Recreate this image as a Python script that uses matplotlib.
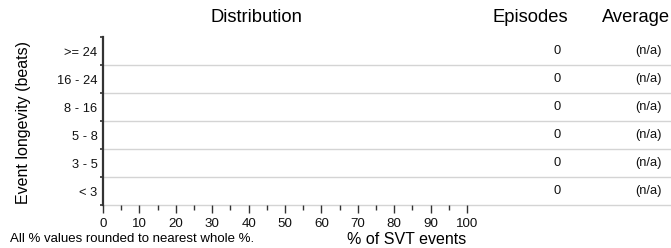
import matplotlib
matplotlib.use("Agg")
import matplotlib.pyplot as plt
import matplotlib.transforms as mtransforms

plt.rcParams['font.family'] = ['Liberation Sans', 'DejaVu Sans']

# ---- data ----
categories = [">= 24", "16 - 24", "8 - 16", "5 - 8", "3 - 5", "< 3"]
percent = [0, 0, 0, 0, 0, 0]
episodes = [0, 0, 0, 0, 0, 0]
average = ["(n/a)", "(n/a)", "(n/a)", "(n/a)", "(n/a)", "(n/a)"]
xticks = [0, 10, 20, 30, 40, 50, 60, 70, 80, 90, 100]
xminor = [5, 15, 25, 35, 45, 55, 65, 75, 85, 95]

W, H = 671, 248
fig = plt.figure(figsize=(W / 100, H / 100), dpi=100)

x0, x100 = 103, 467
top, bottom = 37, 205
ax = fig.add_axes([x0 / W, (H - bottom) / H, (W - x0) / W, (bottom - top) / H])
span = (W - x0) / (x100 - x0) * 100
ax.set_xlim(0, span)
n = len(categories)
ax.set_ylim(0, n)

ys = [n - 0.5 - i for i in range(n)]
ax.barh(ys, percent, height=0.6, color="#4a7fb5")

# row separator lines
for b in range(n):
    ax.axhline(b, color="#d4d4d4", lw=1.0, zorder=0, clip_on=False)

for s in ["top", "right", "bottom"]:
    ax.spines[s].set_visible(False)
ax.spines["left"].set_color("#333333")
ax.spines["left"].set_linewidth(1.6)

# x ticks
ax.set_xticks(xticks)
ax.set_xticklabels([str(v) for v in xticks], fontsize=9.6, color="#111111")
ax.set_xticks(xminor, minor=True)
ax.tick_params(axis="x", which="major", length=6, width=1, color="#333333", pad=3.5)
ax.tick_params(axis="x", which="minor", length=3.8, width=1, color="#333333")

# y ticks: boundaries as major ticks, labels at centers
ax.set_yticks(range(n + 1))
ax.set_yticklabels([])
ax.tick_params(axis="y", which="major", length=2.5, width=1.2, color="#333333")
ax.set_yticks(ys, minor=True)
ax.set_yticklabels(categories, minor=True, fontsize=9.3, color="#111111")
ax.tick_params(axis="y", which="minor", length=0, pad=4)

# column values
trans = mtransforms.blended_transform_factory(fig.transFigure, ax.transData)
for y, e, a in zip(ys, episodes, average):
    ax.text(557 / W, y, str(e), transform=trans, ha="center", va="center",
            fontsize=9.3, color="#111111")
    ax.text(649 / W, y, a, transform=trans, ha="center", va="center",
            fontsize=9.3, color="#111111")

# headers
fig.text(256 / W, (H - 18) / H, "Distribution", ha="center", va="center", fontsize=13.2)
fig.text(530 / W, (H - 18) / H, "Episodes", ha="center", va="center", fontsize=13.2)
fig.text(636 / W, (H - 18) / H, "Average", ha="center", va="center", fontsize=13.2)

# axis labels and note
fig.text(24 / W, (H - 123) / H, "Event longevity (beats)", rotation=90,
         ha="center", va="center", fontsize=11.5)
fig.text(407 / W, (H - 240) / H, "% of SVT events", ha="center", va="center", fontsize=11.5)
fig.text(10 / W, (H - 239.5) / H, "All % values rounded to nearest whole %.",
         ha="left", va="center", fontsize=9.5)

fig.savefig("out.png", dpi=100)
